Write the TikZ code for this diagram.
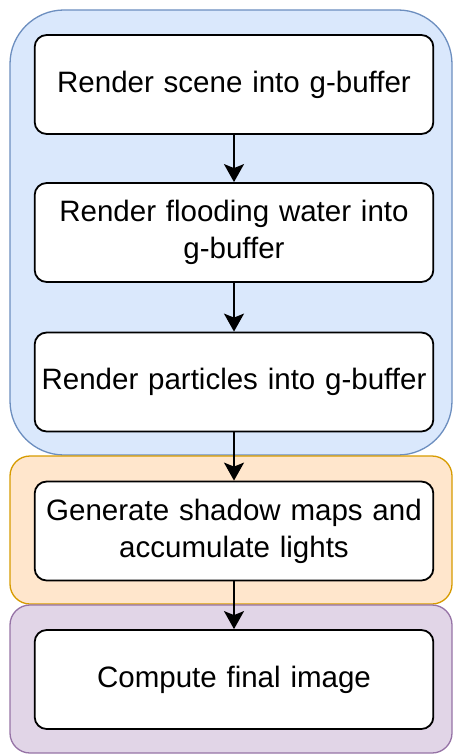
\documentclass[tikz,border=0pt]{standalone}
\usepackage{fontspec}
\setmainfont{Liberation Sans}
\usetikzlibrary{arrows.meta,positioning}
\definecolor{gbufblue}{HTML}{DAE8FC}
\definecolor{gbufedge}{HTML}{6C8EBF}
\definecolor{lightorange}{HTML}{FFE6CC}
\definecolor{lightedge}{HTML}{D79B00}
\definecolor{finalpurple}{HTML}{E1D5E7}
\definecolor{finaledge}{HTML}{9673A6}

\begin{document}
\begin{tikzpicture}[x=1pt,y=1pt,
    passbox/.style={draw=black,line width=1.8pt,fill=white,rounded corners=12pt,
      minimum width=398pt,minimum height=99pt,text width=392pt,align=center,
      font=\fontsize{29.5}{37}\selectfont},
    flow/.style={line width=1.8pt,-{Stealth[length=18pt,width=20pt,inset=4pt]}}]
        \useasboundingbox (0,0) rectangle (453,-754);
        \draw[gbufedge,fill=gbufblue,line width=1.3pt,rounded corners=54pt] (10,-10) rectangle (452,-455);
        \draw[lightedge,fill=lightorange,line width=1.3pt,rounded corners=20pt] (10,-456) rectangle (452,-604);
        \draw[finaledge,fill=finalpurple,line width=1.3pt,rounded corners=20pt] (10,-605) rectangle (452,-753);
        \node[passbox] (scene) at (234,-84.5) {Render scene into g-buffer};
        \node[passbox] (water) at (234,-232.5) {Render flooding water into\\g-buffer};
        \node[passbox] (particles) at (234,-382) {Render particles into g-buffer};
        \node[passbox] (shadows) at (234,-531) {Generate shadow maps and\\accumulate lights};
        \node[passbox] (final) at (234,-679.5) {Compute final image};
        \draw[flow] (scene) -- (water);
        \draw[flow] (water) -- (particles);
        \draw[flow] (particles) -- (shadows);
        \draw[flow] (shadows) -- (final);
      \end{tikzpicture}
\end{document}
